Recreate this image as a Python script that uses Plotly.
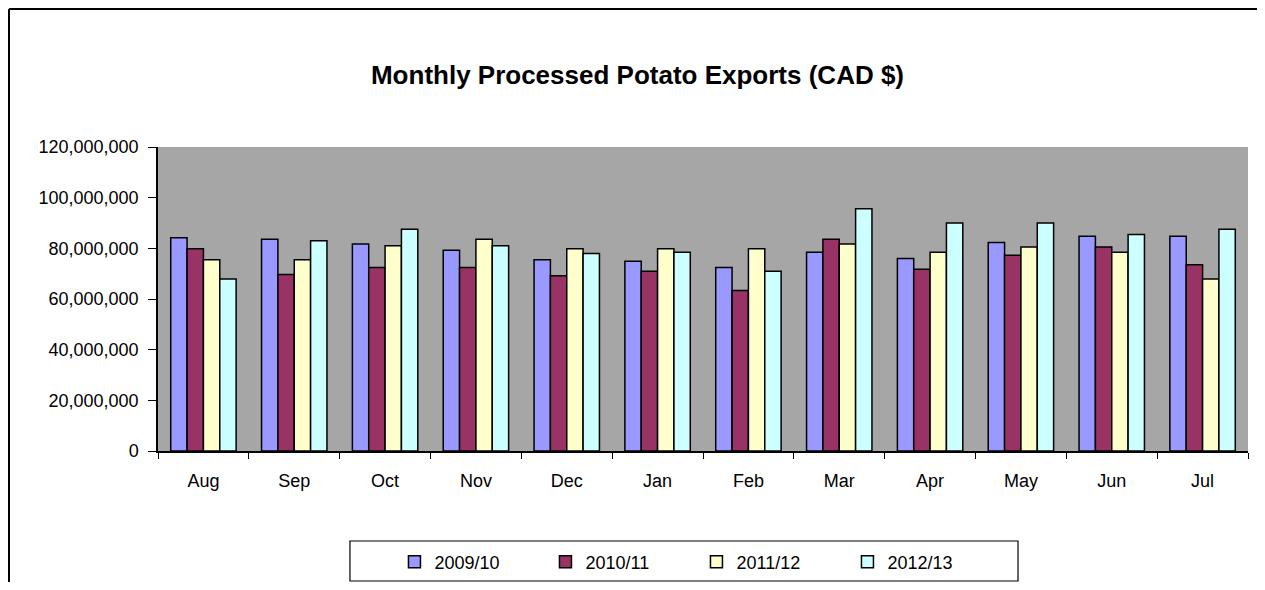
import plotly.graph_objects as go

months = ["Aug", "Sep", "Oct", "Nov", "Dec", "Jan", "Feb", "Mar", "Apr", "May", "Jun", "Jul"]
s2009 = [84.2, 83.6, 81.7, 79.2, 75.5, 74.9, 72.4, 78.5, 76.0, 82.3, 84.8, 84.8]
s2010 = [79.8, 69.7, 72.4, 72.4, 69.2, 71.0, 63.4, 83.6, 71.7, 77.3, 80.5, 73.5]
s2011 = [75.5, 75.5, 81.0, 83.6, 79.8, 79.8, 79.8, 81.7, 78.5, 80.5, 78.5, 67.9]
s2012 = [67.9, 83.0, 87.5, 81.0, 78.0, 78.5, 71.0, 95.6, 90.0, 90.0, 85.5, 87.5]
seasons = ["2009/10", "2010/11", "2011/12", "2012/13"]
colors = ["#9999ff", "#993366", "#ffffcc", "#ccffff"]

FONT = "Liberation Sans, Arial"

fig = go.Figure()
for name, vals, col in zip(seasons, [s2009, s2010, s2011, s2012], colors):
    fig.add_trace(go.Bar(
        x=months, y=[v * 1e6 for v in vals], name=name,
        marker=dict(color=col, line=dict(color="black", width=1.5))))

# outer chart frame (only left and top edges fall inside the view)
fig.add_shape(type="line", xref="paper", yref="paper",
              x0=-0.1367, x1=-0.1367, y0=1.4539, y1=-0.6,
              line=dict(color="black", width=2))
fig.add_shape(type="line", xref="paper", yref="paper",
              x0=-0.1367, x1=1.05, y0=1.4539, y1=1.4539,
              line=dict(color="black", width=2))
# legend frame
fig.add_shape(type="rect", xref="paper", yref="paper",
              x0=0.1761, x1=0.7890, y0=-0.296, y1=-0.4276,
              line=dict(color="black", width=1.2), fillcolor="white", layer="below")

fig.update_layout(
    width=1249, height=574,
    paper_bgcolor="white", plot_bgcolor="#a6a6a6",
    margin=dict(l=150, r=9, t=139, b=131, autoexpand=False),
    barmode="group", bargap=0.28, bargroupgap=0,
    font=dict(family=FONT, size=18, color="black"),
    title=dict(text="<b>Monthly Processed Potato Exports (CAD $)</b>",
               x=0.504, xanchor="center", y=0.883, yanchor="middle",
               font=dict(family=FONT, size=26, color="black")),
    legend=dict(orientation="h", x=0.494, xanchor="center", y=-0.365, yanchor="middle",
                borderwidth=0, bgcolor="rgba(0,0,0,0)",
                font=dict(family=FONT, size=18), entrywidth=106,
                itemwidth=30, traceorder="normal"),
    showlegend=True,
)
fig.update_xaxes(showline=True, linecolor="black", linewidth=1.5, automargin=False,
                 ticks="outside", ticklen=6, tickcolor="black", tickson="boundaries",
                 ticklabelstandoff=13, showgrid=False, tickfont=dict(size=18))
fig.update_yaxes(range=[0, 120e6], dtick=20e6, tickformat=",d", automargin=False,
                 showline=True, linecolor="black", linewidth=1.5,
                 ticks="outside", ticklen=8, tickcolor="black", ticklabelstandoff=6,
                 showgrid=False, zeroline=False, tickfont=dict(size=18))

fig.write_html("out.html")
